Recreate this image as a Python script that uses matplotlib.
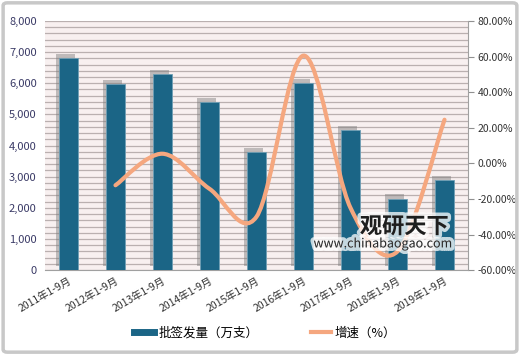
import matplotlib.pyplot as plt
import matplotlib.patheffects as pe
from matplotlib.path import Path
from matplotlib.patches import PathPatch, FancyBboxPatch
from matplotlib.lines import Line2D
import numpy as np

plt.rcParams['font.family'] = ['Noto Sans CJK SC', 'DejaVu Sans']

# data
periods = ['2011年1-9月', '2012年1-9月', '2013年1-9月', '2014年1-9月', '2015年1-9月',
           '2016年1-9月', '2017年1-9月', '2018年1-9月', '2019年1-9月']
volume = [6820, 5980, 6300, 5400, 3790, 6000, 4500, 2300, 2890]
growth = [np.nan, -12.3, 5.4, -14.3, -30.0, 60.5, -25.0, -49.5, 24.5]
left_ticks = [0, 1000, 2000, 3000, 4000, 5000, 6000, 7000, 8000]
right_ticks = [-60, -40, -20, 0, 20, 40, 60, 80]

bar_color = '#1b6586'
line_color = '#f5a77f'

fig = plt.figure(figsize=(5.2, 3.55), dpi=100)
fig.patches.append(FancyBboxPatch((0.006, 0.008), 0.988, 0.984,
                                  boxstyle='round,pad=0,rounding_size=0.008',
                                  transform=fig.transFigure, fill=False,
                                  edgecolor='#c8c8c8', linewidth=2.5))

ax = fig.add_axes([0.0865, 0.239, 0.8135, 0.702])
ax.set_facecolor('#f8f0f0')
x = np.arange(len(periods))

bars = ax.bar(x, volume, width=0.4, color=bar_color, zorder=3,
              edgecolor='#6f9fb5', linewidth=0.6)
for b in bars:
    b.set_path_effects([pe.SimplePatchShadow(offset=(-2, 3), shadow_rgbFace='#7a7a7a', alpha=0.45),
                        pe.Normal()])

ax.set_xlim(-0.5, len(periods) - 0.5)
ax.set_ylim(0, 8000)
ax.set_yticks(left_ticks)
ax.set_yticklabels([f'{v:,}' for v in left_ticks], color='#3a3a66', fontsize=8)
ax.set_yticks(np.arange(0, 8001, 200), minor=True)
ax.grid(axis='y', which='both', color='#bab0b0', linewidth=0.9, zorder=0)
ax.set_axisbelow(True)
ax.tick_params(axis='y', which='both', length=0, pad=6)
ax.set_xticks(x)
ax.set_xticklabels(periods, rotation=30, ha='right', rotation_mode='anchor',
                   fontsize=7.5, color='#333333')
ax.tick_params(axis='x', length=0, pad=4)
for s in ['top', 'left', 'right']:
    ax.spines[s].set_visible(False)
ax.spines['bottom'].set_color('#a0a0a0')

ax2 = ax.twinx()
ax2.set_ylim(-60, 80)
ax2.set_yticks(right_ticks)
ax2.set_yticklabels([f'{v:.2f}%' for v in right_ticks], fontsize=7.5, color='#333333')
ax2.tick_params(axis='y', length=4, color='#909090', pad=3)
for s in ['top', 'left', 'bottom']:
    ax2.spines[s].set_visible(False)
ax2.spines['right'].set_color('#a0a0a0')

# smoothed growth line (Bezier segments through the data points)
pts = [(xi, g) for xi, g in zip(x, growth) if not np.isnan(g)]
pts = np.array(pts, dtype=float)
verts = [pts[0]]
codes = [Path.MOVETO]
n = len(pts)
for i in range(n - 1):
    p0 = pts[max(i - 1, 0)]
    p1 = pts[i]
    p2 = pts[i + 1]
    p3 = pts[min(i + 2, n - 1)]
    verts += [p1 + (p2 - p0) / 6, p2 - (p3 - p1) / 6, p2]
    codes += [Path.CURVE4] * 3
ax2.add_patch(PathPatch(Path(verts, codes), fill=False, edgecolor=line_color,
                        linewidth=3, capstyle='round', zorder=4))

# watermark
glow = [pe.withStroke(linewidth=5, foreground=(1, 1, 1, 0.75))]
ax2.text(0.692, 0.343, '观研天下', fontsize=16, fontweight='bold', color='#1e1e1e',
         transform=fig.transFigure, zorder=10, path_effects=glow)
ax2.text(0.603, 0.303, 'www.chinabaogao.com', fontsize=9, color='#2a2a2a',
         transform=fig.transFigure, zorder=10, path_effects=glow)

handles = [Line2D([], [], color=bar_color, linewidth=5),
           Line2D([], [], color=line_color, linewidth=3)]
fig.legend(handles, ['批签发量（万支）', '增速（%）'], loc='center', ncol=2,
           bbox_to_anchor=(0.51, 0.062), frameon=False, fontsize=9,
           handlelength=1.6, columnspacing=4.2, handletextpad=0.3)

plt.savefig('out.png', dpi=100)
plt.close()
